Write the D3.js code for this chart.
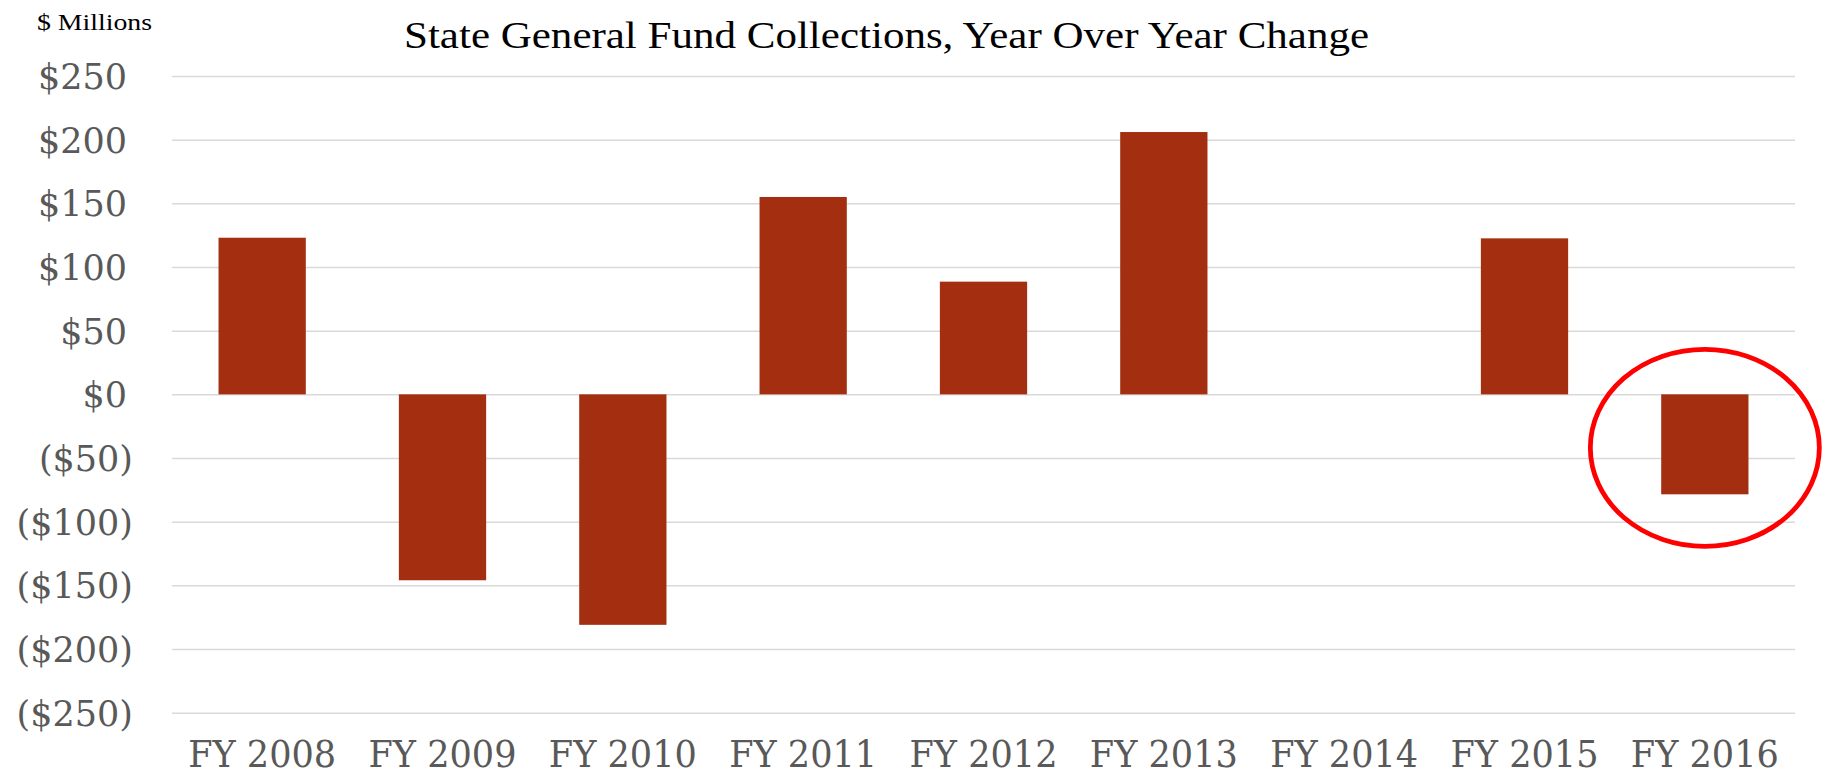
<!DOCTYPE html>
<html>
<head>
<meta charset="utf-8">
<script src="https://cdn.jsdelivr.net/npm/d3@7"></script>
<style>
  html, body { margin: 0; padding: 0; background: #ffffff; }
  svg { display: block; }
</style>
</head>
<body>
<svg id="chart" width="1832" height="778"></svg>
<script>
// Fiscal years shown on the horizontal axis
const categories = ["FY 2008", "FY 2009", "FY 2010", "FY 2011", "FY 2012", "FY 2013", "FY 2014", "FY 2015", "FY 2016"];
// Year-over-year change in general fund collections, $ millions
const changes = [123, -146, -181, 155, 88.5, 206, 0, 122.5, -78.5];
// Value axis ticks
const yTicks = [250, 200, 150, 100, 50, 0, -50, -100, -150, -200, -250];
// Year singled out with a circle
const highlighted = "FY 2016";

const svg = d3.select("#chart");
const plot = { left: 172, right: 1795, top: 76, bottom: 712.7 };

const x = d3.scaleBand()
  .domain(categories)
  .range([plot.left, plot.right])
  .padding(0);

const y = d3.scaleLinear()
  .domain([-250, 250])
  .range([plot.bottom, plot.top]);

const barWidth = x.bandwidth() * 0.484;

// Accounting style: negatives in parentheses
const fmt = v => v < 0 ? `($${Math.abs(v)})` : `$${v}`;

// Gridlines + value labels
const yAxis = svg.append("g")
  .attr("transform", `translate(${plot.left},0)`)
  .call(d3.axisLeft(y)
    .tickValues(yTicks)
    .tickSize(-(plot.right - plot.left))
    .tickFormat(fmt));
yAxis.select(".domain").remove();
yAxis.selectAll(".tick line")
  .attr("stroke", "#d9d9d9")
  .attr("stroke-width", 1.5);
yAxis.selectAll(".tick text")
  .attr("x", d => d < 0 ? 133 - plot.left : 127 - plot.left)
  .attr("dy", "0.36em")
  .attr("fill", "#595959")
  .attr("font-family", "'DejaVu Serif', serif")
  .attr("font-size", 35)
  .attr("text-anchor", "end");

// Bars
svg.append("g")
  .selectAll("rect")
  .data(categories.map((c, i) => ({ c, v: changes[i] })))
  .join("rect")
  .attr("x", d => x(d.c) + (x.bandwidth() - barWidth) / 2)
  .attr("width", barWidth)
  .attr("y", d => y(Math.max(0, d.v)))
  .attr("height", d => Math.abs(y(d.v) - y(0)))
  .attr("fill", "#a42f10");

// Category labels
const xAxis = svg.append("g")
  .attr("transform", `translate(0,${plot.bottom})`)
  .call(d3.axisBottom(x).tickSize(0));
xAxis.select(".domain").remove();
xAxis.selectAll(".tick text")
  .attr("y", 0)
  .attr("dy", 767 - plot.bottom)
  .attr("fill", "#595959")
  .attr("font-family", "'DejaVu Serif', serif")
  .attr("font-size", 38)
  .attr("textLength", 148)
  .attr("lengthAdjust", "spacingAndGlyphs");

// Title
svg.append("text")
  .attr("x", 404)
  .attr("y", 48)
  .attr("font-family", "'Liberation Serif', serif")
  .attr("font-size", 38)
  .attr("fill", "#000000")
  .attr("textLength", 965)
  .attr("lengthAdjust", "spacingAndGlyphs")
  .text("State General Fund Collections, Year Over Year Change");

// Units note
svg.append("text")
  .attr("x", 37)
  .attr("y", 30)
  .attr("font-family", "'Liberation Serif', serif")
  .attr("font-size", 24)
  .attr("fill", "#000000")
  .attr("textLength", 115)
  .attr("lengthAdjust", "spacingAndGlyphs")
  .text("$ Millions");

// Circle around the highlighted year
svg.append("ellipse")
  .attr("cx", x(highlighted) + x.bandwidth() / 2)
  .attr("cy", y(-42))
  .attr("rx", 114.5)
  .attr("ry", 98.5)
  .attr("fill", "none")
  .attr("stroke", "#ff0000")
  .attr("stroke-width", 4.8);
</script>
</body>
</html>
